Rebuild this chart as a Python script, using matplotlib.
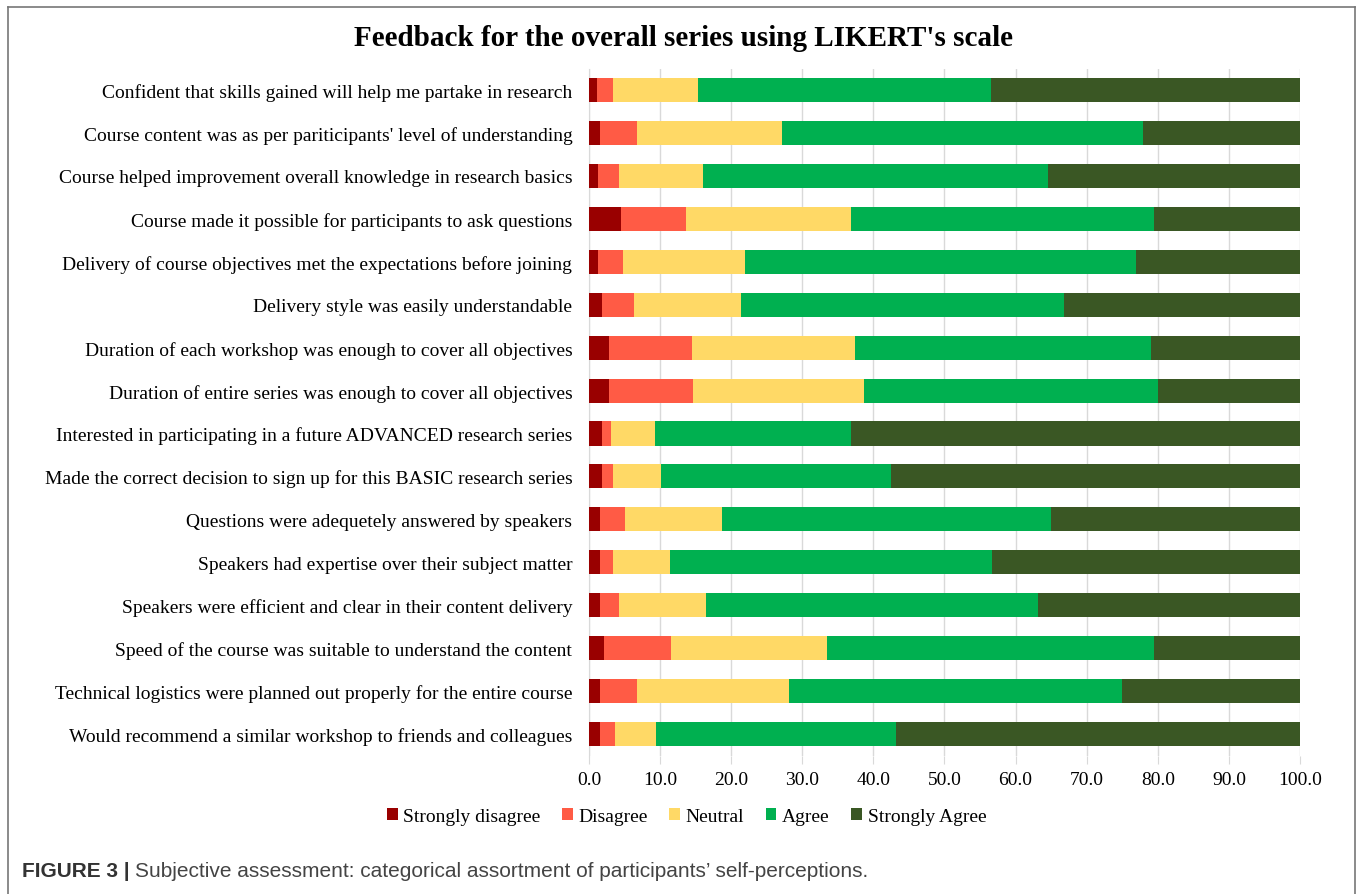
import matplotlib.pyplot as plt
from matplotlib.lines import Line2D
from matplotlib.patches import Patch

# statements, listed top to bottom
statements = [
    "Confident that skills gained will help me partake in research",
    "Course content was as per pariticipants' level of understanding",
    "Course helped improvement overall knowledge in research basics",
    "Course made it possible for participants to ask questions",
    "Delivery of course objectives met the expectations before joining",
    "Delivery style was easily understandable",
    "Duration of each workshop was enough to cover all objectives",
    "Duration of entire series was enough to cover all objectives",
    "Interested in participating in a future ADVANCED research series",
    "Made the correct decision to sign up for this BASIC research series",
    "Questions were adequetely answered by speakers",
    "Speakers had expertise over their subject matter",
    "Speakers were efficient and clear in their content delivery",
    "Speed of the course was suitable to understand the content",
    "Technical logistics were planned out properly for the entire course",
    "Would recommend a similar workshop to friends and colleagues",
]

# percentages
strongly_disagree = [1.2, 1.5, 1.3, 4.5, 1.3, 1.8, 2.8, 2.8, 1.8, 1.8, 1.6, 1.5, 1.5, 2.1, 1.5, 1.6]
disagree = [2.2, 5.2, 2.9, 9.2, 3.5, 4.5, 11.7, 11.9, 1.3, 1.6, 3.5, 1.9, 2.7, 9.4, 5.2, 2.0]
neutral = [11.9, 20.5, 11.9, 23.1, 17.2, 15.1, 22.9, 24.0, 6.2, 6.8, 13.6, 8.0, 12.2, 22.0, 21.5, 5.8]
agree = [41.2, 50.7, 48.4, 42.6, 55.0, 45.4, 41.7, 41.3, 27.6, 32.3, 46.3, 45.3, 46.7, 46.0, 46.7, 33.8]
strongly_agree = [43.5, 22.1, 35.5, 20.6, 23.0, 33.2, 20.9, 20.0, 63.1, 57.5, 35.0, 43.3, 36.9, 20.5, 25.1, 56.8]

series = [strongly_disagree, disagree, neutral, agree, strongly_agree]
names = ["Strongly disagree", "Disagree", "Neutral", "Agree", "Strongly Agree"]
colors = ["#990000", "#FF5B45", "#FFD966", "#00B050", "#3A5724"]

serif = ["Liberation Serif", "DejaVu Serif"]

fig = plt.figure(figsize=(13.57, 8.95), dpi=100)
ax = fig.add_axes([0.434, 0.1547, 0.524, 0.7676])

y = list(range(len(statements)))
left = [0.0] * len(statements)
for vals, name, col in zip(series, names, colors):
    ax.barh(y, vals, left=left, height=0.56, color=col, label=name, zorder=3)
    left = [a + b for a, b in zip(left, vals)]

ax.set_ylim(len(statements) - 0.5, -0.5)
ax.set_xlim(0, 100)
ax.set_yticks(y)
ax.set_yticklabels(statements, family=serif, fontsize=14)
ax.set_xticks(range(0, 101, 10))
ax.set_xticklabels([f"{v:.1f}" for v in range(0, 101, 10)], family=serif, fontsize=14)
ax.tick_params(axis="y", length=0, pad=12)
ax.tick_params(axis="x", length=6, color="#d9d9d9", pad=5)
ax.grid(axis="x", color="#d9d9d9", linewidth=1, zorder=0)
for s in ["top", "right", "bottom"]:
    ax.spines[s].set_visible(False)
ax.spines["left"].set_color("#d9d9d9")

fig.text(0.504, 0.957, "Feedback for the overall series using LIKERT's scale",
         ha="center", va="center", family=serif, fontsize=21, fontweight="bold")

handles = [Patch(facecolor=c, edgecolor="none") for c in colors]
fig.legend(handles, names, loc="center", bbox_to_anchor=(0.506, 0.087), ncol=5,
           frameon=False, prop={"family": serif, "size": 14},
           handlelength=0.55, handleheight=0.55, handletextpad=0.3, columnspacing=1.1)

# frame around the figure panel
fig.add_artist(Line2D([0.006, 0.006], [0.0, 0.991], transform=fig.transFigure, color="#777777", lw=1.2))
fig.add_artist(Line2D([0.006, 0.9985], [0.991, 0.991], transform=fig.transFigure, color="#777777", lw=1.2))
fig.add_artist(Line2D([0.9985, 0.9985], [0.0, 0.991], transform=fig.transFigure, color="#777777", lw=1.2))

cap_font = ["Liberation Sans", "DejaVu Sans"]
t1 = fig.text(0.016, 0.026, "FIGURE 3 | ", family=cap_font, fontsize=15, fontweight="bold",
              color="#333333", va="center")
fig.canvas.draw()
bb = t1.get_window_extent().transformed(fig.transFigure.inverted())
fig.text(bb.x1, 0.026, "Subjective assessment: categorical assortment of participants\u2019 self-perceptions.",
         family=cap_font, fontsize=15, color="#444444", va="center")

fig.savefig("out.png", dpi=100)
